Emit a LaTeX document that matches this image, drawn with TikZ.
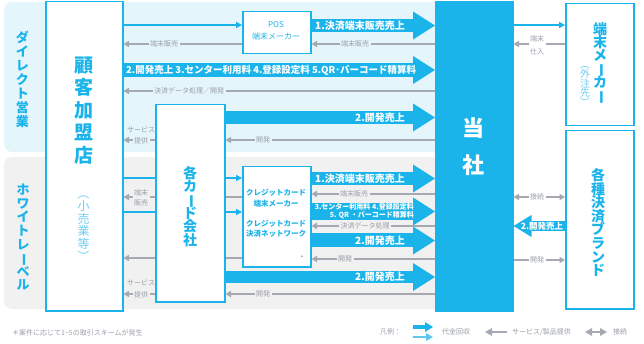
\documentclass[tikz,border=0pt]{standalone}
\usepackage{fontspec}
\usepackage{graphicx}
\setmainfont{Noto Sans CJK JP}
\usetikzlibrary{arrows.meta}
\pgfdeclarelayer{back}
\pgfdeclarelayer{mid}
\pgfsetlayers{back,mid,main}
\definecolor{mblue}{HTML}{1BB4EA}
\definecolor{lpanel}{HTML}{E5F5FC}
\definecolor{gpanel}{HTML}{F1F1F1}
\definecolor{gline}{HTML}{A5A9B2}
\definecolor{gtext}{HTML}{9A9EA8}
\definecolor{ltext}{HTML}{72CEF2}
\definecolor{lgblue}{HTML}{5CC8F0}
\definecolor{dgray}{HTML}{777777}
\newcommand\vbar{\rotatebox[origin=c]{-90}{ー}}
\newcommand\vlp{\rotatebox[origin=c]{-90}{（}}
\newcommand\vrp{\rotatebox[origin=c]{-90}{）}}
\newcommand\fs[2]{\fontsize{#1}{#2}\selectfont\lineskiplimit=-100pt\relax}
\begin{document}
\begin{tikzpicture}[x=1pt,y=-1pt,
  box/.style={draw=mblue, line width=1.5pt, fill=white, anchor=north west, inner sep=0pt},
  vt/.style={align=center, text=mblue, inner sep=0pt},
  barr/.style={draw=mblue, line width=#1, -{Triangle[length=22pt,width=28pt,line width=0pt]}},
  tarr/.style={draw=mblue, line width=1.3pt, -{Triangle[length=6pt,width=6.5pt,line width=0pt]}},
  garr/.style={draw=gline, line width=1.2pt, -{Triangle[length=5.5pt,width=6.5pt,line width=0pt]}},
  gdbl/.style={draw=gline, line width=1.2pt, {Triangle[length=5.5pt,width=6.5pt,line width=0pt]}-{Triangle[length=5.5pt,width=6.5pt,line width=0pt]}},
  glab/.style={font=\fs{7}{9}, text=gtext, fill=#1, inner sep=1.5pt, align=center},
  gtx/.style={font=\fs{7}{9}, text=gtext, inner sep=0pt},
  atext/.style={font=\bfseries\fs{10}{11}, text=white, inner sep=0pt},
  btext/.style={font=\fs{8}{10}, text=mblue, inner sep=0pt, align=center},
]
\useasboundingbox (0,0) rectangle (644,344);
% panels
\begin{pgfonlayer}{back}
\fill[lpanel, rounded corners=8pt] (4,2) rectangle (470,152);
\fill[gpanel, rounded corners=8pt] (4,157) rectangle (470,309);
\end{pgfonlayer}
% boxes
\node[box, minimum width=77pt, minimum height=309pt] (cust) at (45,1) {};
\node[box, minimum width=69pt, minimum height=197pt] (card) at (155,104) {};
\node[box, minimum width=68pt, minimum height=42pt] (pos) at (242,11) {};
\node[box, minimum width=68pt, minimum height=100pt] (credit) at (242,166) {};
\node[box, fill=mblue, minimum width=77pt, minimum height=309pt] (tosha) at (435,1) {};
\node[box, minimum width=68pt, minimum height=122pt] (term) at (565,3) {};
\node[box, minimum width=68pt, minimum height=178pt] (brand) at (565,130) {};
% thin connectors
\begin{pgfonlayer}{mid}
\draw[tarr] (cust.east |- 0,25) -- (pos.west |- 0,25);
\draw[tarr] (tosha.east |- 0,25) -- (term.west |- 0,25);
\draw[tarr] (cust.east |- 0,178) -- (credit.west |- 0,178);
\draw[tarr] (cust.east |- 0,212) -- (credit.west |- 0,212);
\draw[garr] (tosha.west |- 0,44) -- (pos.east |- 0,44);
\draw[garr] (pos.west |- 0,44) -- (cust.east |- 0,44);
\draw[garr] (tosha.west |- 0,91) -- (cust.east |- 0,91);
\draw[garr] (tosha.west |- 0,140) -- (card.east |- 0,140);
\draw[garr] (card.west |- 0,140) -- (cust.east |- 0,140);
\draw[garr] (credit.west |- 0,197) -- (cust.east |- 0,197);
\draw[garr] (credit.west |- 0,258) -- (cust.east |- 0,258);
\draw[garr] (card.west |- 0,294) -- (cust.east |- 0,294);
\draw[garr] (tosha.west |- 0,194) -- (credit.east |- 0,194);
\draw[garr] (tosha.west |- 0,226) -- (credit.east |- 0,226);
\draw[garr] (tosha.west |- 0,259) -- (credit.east |- 0,259);
\draw[garr] (tosha.west |- 0,294) -- (card.east |- 0,294);
\draw[garr] (term.west |- 0,44) -- (tosha.east |- 0,44);
\draw[gdbl] (tosha.east |- 0,197) -- (brand.west |- 0,197);
\draw[garr] (tosha.east |- 0,260) -- (brand.west |- 0,260);
\end{pgfonlayer}
% gray labels
\node[glab=lpanel] (l1) at (164,44) {端末販売};
\node[glab=lpanel] (l2) at (355,44) {端末販売};
\node[glab=lpanel] (l3) at (189,91) {決済データ処理／開発};
\node[glab=lpanel] (l4) at (263,140) {開発};
\node[gtx] (l5) at (141,130) {サービス};
\node[glab=lpanel] (l6) at (141,140.5) {提供};
\node[glab=gpanel, font=\fs{7}{10}] (l7) at (141,197.5) {端末\\販売};
\node[gtx] (l8) at (141,283) {サービス};
\node[glab=gpanel] (l9) at (141,294.5) {提供};
\node[glab=gpanel] (l10) at (354,194) {端末販売};
\node[glab=gpanel] (l11) at (365,226) {決済データ処理};
\node[glab=gpanel] (l12) at (345,259) {開発};
\node[glab=gpanel] (l13) at (263,294) {開発};
\node[glab=white, font=\fs{7}{13}] (l14) at (537,45) {端末\\仕入};
\node[glab=white] (l15) at (537,197) {接続};
\node[glab=white] (l16) at (537,260) {開発};
% big arrows
\draw[barr=13pt] (pos.east |- 0,25.5) -- (tosha.west |- 0,25.5);
\draw[barr=14pt] (cust.east |- 0,70) -- (tosha.west |- 0,70);
\draw[barr=13pt] (card.east |- 0,117.5) -- (tosha.west |- 0,117.5);
\draw[barr=13pt] (credit.east |- 0,178.5) -- (tosha.west |- 0,178.5);
\draw[barr=17pt] (credit.east |- 0,211.5) -- (tosha.west |- 0,211.5);
\draw[barr=14pt] (credit.east |- 0,240.5) -- (tosha.west |- 0,240.5);
\draw[barr=12pt] (card.east |- 0,277) -- (tosha.west |- 0,277);
\draw[draw=mblue, line width=10pt, -{Triangle[length=18pt,width=22pt,line width=0pt]}] (brand.west |- 0,226) -- (tosha.east |- 0,226);
% arrow texts
\node[atext, anchor=east] (tA) at (405,25.5) {1.決済端末販売売上};
\node[atext, anchor=west, font=\bfseries\fs{9.5}{11}] (tB) at (126,70) {2.開発売上 3.センター利用料 4.登録設定料 5.QR･バーコード精算料};
\node[atext, anchor=east] (tC) at (405,117.5) {2.開発売上};
\node[atext, anchor=east] (tD) at (405,178.5) {1.決済端末販売売上};
\node[atext, anchor=east, align=right, font=\bfseries\fs{7}{8.5}] (tE) at (414,211) {3.センター利用料 4.登録設定料\\5. QR ・バーコード精算料};
\node[atext, anchor=east] (tF) at (405,240.5) {2.開発売上};
\node[atext, anchor=east] (tG) at (405,277) {2.開発売上};
\node[atext, font=\bfseries\fs{8.5}{10}] (tH) at (542,226) {2.開発売上};
% box texts
\node[btext, font=\fs{8}{12}] (posname) at (276,31) {POS\\端末メーカー};
\node[btext, font=\bfseries\fs{7.5}{10.5}] (cr1) at (276,198) {クレジットカード\\端末メーカー};
\node[btext, font=\bfseries\fs{7.5}{10.5}] (cr2) at (276,228.5) {クレジットカード\\決済ネットワーク};
\node[font=\fs{6}{6}, text=dgray, inner sep=0pt] (ast) at (302,258) {*};
\node[vt, font=\bfseries\fs{19}{22.5}] (custname) at (84,110.5) {顧\\客\\加\\盟\\店};
\node[vt, text=ltext, font=\fs{12}{12.5}] (custsub) at (83.5,225) {\vlp\\小\\売\\業\\等\\\vrp};
\node[vt, font=\bfseries\fs{13}{14}] (direct) at (22.5,79) {ダ\\イ\\レ\\ク\\ト\\営\\業};
\node[vt, font=\bfseries\fs{13}{13.6}] (wlabel) at (23,237.5) {ホ\\ワ\\イ\\ト\\レ\\\vbar\\ベ\\ル};
\node[vt, font=\bfseries\fs{14}{13.4}] (cardname) at (190,206.5) {各\\カ\\\vbar\\ド\\会\\社};
\node[vt, font=\bfseries\fs{14}{13.6}] (brandname) at (598,222.5) {各\\種\\決\\済\\ブ\\ラ\\ン\\ド};
\node[vt, font=\bfseries\fs{14}{13.4}] (termname) at (600,63.5) {端\\末\\メ\\\vbar\\カ\\\vbar};
\node[vt, text=ltext, font=\fs{10}{9.5}] (termsub) at (585,83.5) {\vlp\\外\\注\\先\\\vrp};
\node[vt, text=white, font=\bfseries\fs{22}{37}] (toshaname) at (473.5,146.5) {当\\社};
% footnote & legend
\node[gtx, anchor=west] (note) at (12,333) {＊案件に応じて1\textasciitilde 5の取引スキームが発生};
\node[gtx, anchor=west] (lg0) at (380,332) {凡例：};
\coordinate (la1) at (413,327); \coordinate (la2) at (433,327);
\coordinate (lb1) at (413,337); \coordinate (lb2) at (433,337);
\draw[mblue, line width=4pt, -{Triangle[length=8pt,width=10pt,line width=0pt]}] (la1) -- (la2);
\draw[lgblue, line width=2pt, -{Triangle[length=7pt,width=8pt,line width=0pt]}] (lb1) -- (lb2);
\node[gtx, anchor=west] (lg1) at (442,332) {代金回収};
\coordinate (lc1) at (507,332); \coordinate (lc2) at (485,332);
\draw[draw=gline, line width=1.5pt, -{Triangle[length=7pt,width=8pt,line width=0pt]}] (lc1) -- (lc2);
\node[gtx, anchor=west] (lg2) at (512,332) {サービス/製品提供};
\coordinate (ld1) at (585,332); \coordinate (ld2) at (607,332);
\draw[draw=gline, line width=1.5pt, {Triangle[length=7pt,width=8pt,line width=0pt]}-{Triangle[length=7pt,width=8pt,line width=0pt]}] (ld1) -- (ld2);
\node[gtx, anchor=west] (lg3) at (613,332) {接続};
\end{tikzpicture}
\end{document}
